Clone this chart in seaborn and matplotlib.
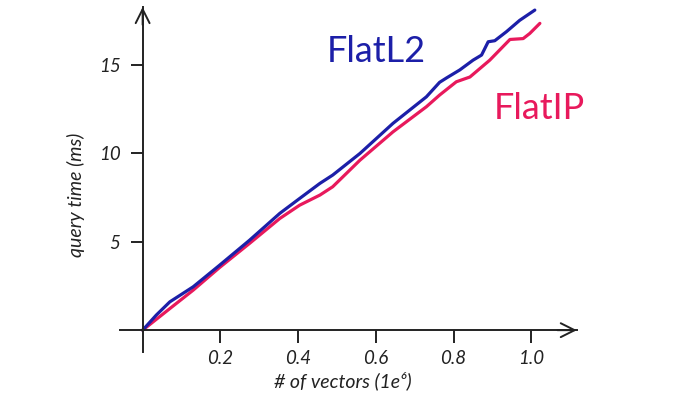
import numpy as np
import pandas as pd
import matplotlib
matplotlib.use("Agg")
import matplotlib.pyplot as plt
import seaborn as sns

# values (x in 1e6 vectors, y in ms)
l2_x = [0, 0.035, 0.07, 0.13, 0.198, 0.275, 0.353, 0.404, 0.456, 0.489, 0.559,
        0.644, 0.73, 0.764, 0.782, 0.816, 0.85, 0.872, 0.889, 0.906, 0.936, 0.97, 1.009]
l2_y = [0, 0.85, 1.6, 2.45, 3.67, 5.08, 6.6, 7.44, 8.29, 8.76, 9.98,
        11.68, 13.18, 14.0, 14.25, 14.7, 15.25, 15.54, 16.29, 16.35, 16.86, 17.5, 18.08]
ip_x = [0, 0.07, 0.13, 0.198, 0.275, 0.353, 0.404, 0.456, 0.489, 0.559, 0.644,
        0.73, 0.764, 0.807, 0.842, 0.893, 0.945, 0.979, 0.996, 1.022]
ip_y = [0, 1.22, 2.26, 3.54, 4.9, 6.31, 7.06, 7.63, 8.1, 9.6, 11.2,
        12.62, 13.28, 14.03, 14.3, 15.25, 16.42, 16.47, 16.76, 17.33]

x_ticks = [0.2, 0.4, 0.6, 0.8, 1.0]
y_ticks = [5, 10, 15]

blue = "#1c1fa8"
pink = "#e8195c"

df = pd.concat([
    pd.DataFrame({"x": l2_x, "y": l2_y, "index": "FlatL2"}),
    pd.DataFrame({"x": ip_x, "y": ip_y, "index": "FlatIP"}),
])

sns.set_theme(style="white")
plt.rcParams["font.family"] = ["Lato", "DejaVu Sans"]

fig = plt.figure(figsize=(7, 3.93), dpi=100)
ax = fig.add_axes([0.171, 0.104, 0.653, 0.878])

sns.lineplot(data=df, x="x", y="y", hue="index", palette={"FlatL2": blue, "FlatIP": pink},
             hue_order=["FlatIP", "FlatL2"], linewidth=2.3, sort=False, legend=False, ax=ax)

xmin, xmax = -0.059, 1.117
ymin, ymax = -1.24, 18.25
ax.set_xlim(xmin, xmax)
ax.set_ylim(ymin, ymax)

# axis lines through zero with open arrowheads
for s in ["top", "right"]:
    ax.spines[s].set_visible(False)
ax.spines["left"].set_position(("data", 0))
ax.spines["bottom"].set_position(("data", 0))
for s in ["left", "bottom"]:
    ax.spines[s].set_color("#222222")
    ax.spines[s].set_linewidth(1.4)
ax.annotate("", xy=(xmax, 0), xytext=(xmax - 0.05, 0),
            arrowprops=dict(arrowstyle="->", lw=1.4, color="#222222", mutation_scale=25,
                            shrinkA=0, shrinkB=0), annotation_clip=False)
ax.annotate("", xy=(0, ymax), xytext=(0, ymax - 1),
            arrowprops=dict(arrowstyle="->", lw=1.4, color="#222222", mutation_scale=25,
                            shrinkA=0, shrinkB=0), annotation_clip=False)

ax.set_xticks(x_ticks)
ax.set_xticklabels([f"{v:.1f}" for v in x_ticks])
ax.set_yticks(y_ticks)
ax.set_yticklabels([str(v) for v in y_ticks])
ax.tick_params(axis="both", direction="out", length=9, width=1.4, color="#222222",
               labelsize=13.5, labelcolor="#222222", bottom=True, left=True)
ax.tick_params(axis="x", pad=5)
ax.tick_params(axis="y", pad=7)
for lab in ax.get_xticklabels() + ax.get_yticklabels():
    lab.set_fontstyle("italic")

ax.set_xlabel("# of vectors (1e\u2076)", fontsize=14, style="italic", color="#222222")
ax.set_ylabel("query time (ms)", fontsize=14, style="italic", color="#222222")
ax.xaxis.set_label_coords(0.488, -0.055)
ax.yaxis.set_label_coords(-0.077, 0.455)

ax.text(0.60, 15.76, "FlatL2", color=blue, fontsize=26, ha="center", va="center")
ax.text(1.02, 12.54, "FlatIP", color=pink, fontsize=26, ha="center", va="center")

fig.savefig("out.png", dpi=100)
